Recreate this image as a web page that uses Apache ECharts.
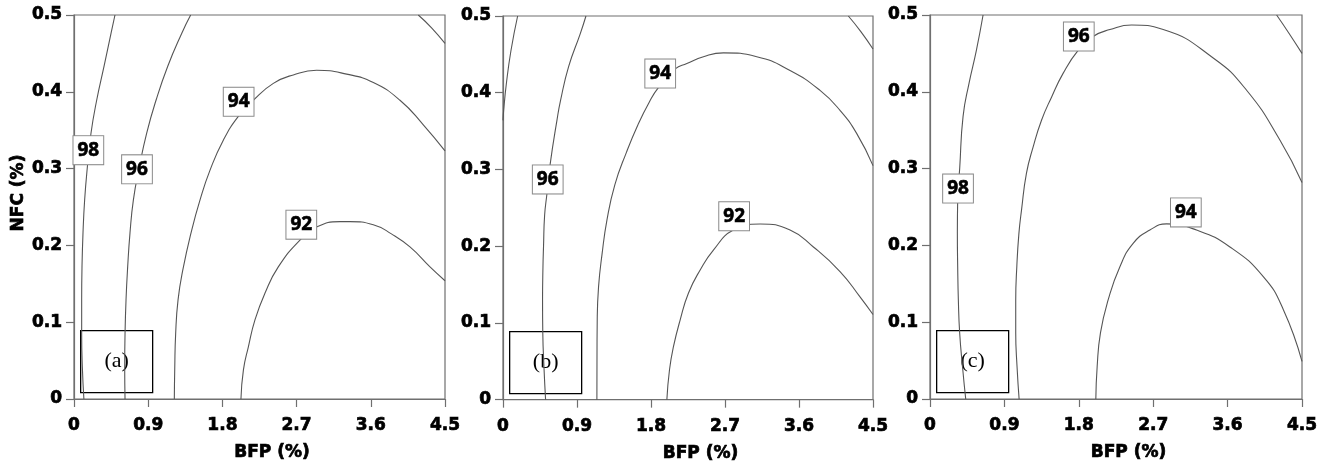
<!DOCTYPE html>
<html>
<head>
<meta charset="utf-8">
<title>Contour plots of NFC vs BFP</title>
<script src="https://cdn.jsdelivr.net/npm/echarts@6/dist/echarts.min.js"></script>
<style>
  html, body { margin: 0; padding: 0; background: #fff; }
  #chart { width: 1334px; height: 467px; }
</style>
</head>
<body>
<div id="chart"></div>
<script>
// Axis ticks
const xTickLabels = ['0', '0.9', '1.8', '2.7', '3.6', '4.5'];
const yTickLabels = ['0', '0.1', '0.2', '0.3', '0.4', '0.5'];

// Panel (a) contour lines: [BFP, NFC]
const a98 = [[0.12,0],[0.101,0.042],[0.093,0.085],[0.093,0.129],[0.097,0.172],[0.109,0.216],[0.129,0.259],[0.162,0.302],[0.206,0.346],[0.275,0.389],[0.364,0.433],[0.449,0.476],[0.497,0.5]];
const a96 = [[0.619,0],[0.615,0.042],[0.619,0.085],[0.631,0.129],[0.651,0.172],[0.679,0.216],[0.72,0.259],[0.792,0.302],[0.881,0.346],[0.995,0.389],[1.136,0.433],[1.306,0.476],[1.415,0.5]];
const a94 = [[1.217,0],[1.222,0.04],[1.233,0.085],[1.262,0.129],[1.32,0.168],[1.428,0.22],[1.528,0.259],[1.65,0.298],[1.811,0.337],[1.993,0.368],[2.175,0.389],[2.418,0.411],[2.66,0.422],[2.943,0.428],[3.307,0.423],[3.631,0.412],[3.954,0.389],[4.237,0.357],[4.5,0.323]];
const a92 = [[2.025,0],[2.055,0.038],[2.115,0.068],[2.195,0.103],[2.317,0.138],[2.478,0.172],[2.741,0.207],[2.944,0.224],[3.226,0.231],[3.348,0.231],[3.63,0.227],[3.85,0.215],[4.075,0.198],[4.318,0.172],[4.5,0.154]];
const a90 = [[4.176,0.5],[4.34,0.483],[4.5,0.463]];
const aLabels = [[0.174,0.324,98],[0.764,0.299,96],[1.997,0.387,94],[2.757,0.227,92]];

// Panel (b) contour lines
const b98 = [[0.178,0.5],[0.097,0.455],[0.041,0.412],[0.008,0.377],[0,0.364]];
const b96 = [[0.518,0],[0.498,0.043],[0.484,0.087],[0.481,0.13],[0.486,0.173],[0.493,0.2],[0.506,0.24],[0.535,0.269],[0.575,0.308],[0.656,0.364],[0.7,0.39],[0.798,0.434],[0.94,0.477],[1.009,0.5]];
const b94 = [[1.142,0],[1.143,0.05],[1.146,0.104],[1.162,0.147],[1.205,0.19],[1.264,0.234],[1.36,0.28],[1.5,0.322],[1.64,0.358],[1.78,0.388],[1.892,0.407],[2.094,0.431],[2.236,0.438],[2.438,0.447],[2.681,0.452],[3.086,0.447],[3.491,0.429],[3.856,0.403],[4.099,0.377],[4.301,0.347],[4.5,0.305]];
const b92 = [[1.993,0],[2.025,0.039],[2.073,0.069],[2.155,0.104],[2.256,0.139],[2.398,0.169],[2.559,0.195],[2.802,0.221],[3.127,0.229],[3.491,0.221],[3.775,0.199],[4.099,0.167],[4.342,0.134],[4.5,0.111]];
const b90 = [[4.2,0.5],[4.35,0.48],[4.5,0.457]];
const bLabels = [[0.544,0.287,96],[1.912,0.425,94],[2.811,0.239,92]];

// Panel (c) contour lines
const c98 = [[0.432,0],[0.395,0.04],[0.359,0.086],[0.343,0.129],[0.335,0.172],[0.331,0.216],[0.335,0.26],[0.359,0.3],[0.4,0.368],[0.472,0.411],[0.561,0.454],[0.642,0.5]];
const c96 = [[1.078,0],[1.053,0.042],[1.037,0.086],[1.037,0.129],[1.05,0.172],[1.075,0.215],[1.107,0.246],[1.167,0.294],[1.247,0.328],[1.349,0.363],[1.47,0.393],[1.61,0.424],[1.792,0.454],[1.973,0.472],[2.176,0.481],[2.438,0.487],[2.821,0.481],[3.426,0.444],[3.83,0.402],[4.234,0.337],[4.5,0.282]];
const c94 = [[2.006,0],[2.022,0.042],[2.062,0.086],[2.155,0.129],[2.296,0.172],[2.46,0.203],[2.66,0.22],[2.861,0.228],[3.224,0.22],[3.628,0.198],[4.034,0.159],[4.276,0.116],[4.5,0.049]];
const c90 = [[4.193,0.5],[4.35,0.475],[4.5,0.45]];
const cLabels = [[0.339,0.274,98],[1.8,0.472,96],[3.095,0.243,94]];

const panelTags = ['(a)', '(b)', '(c)'];

const panels = [
  { lines: [a98, a96, a94, a92, a90], labels: aLabels },
  { lines: [b98, b96, b94, b92, b90], labels: bLabels },
  { lines: [c98, c96, c94, c90], labels: cLabels }
];

const grids = [
  { left: 74,  top: 15, width: 371, height: 384 },
  { left: 503, top: 16, width: 370, height: 384 },
  { left: 930, top: 15, width: 372, height: 384 }
];

const axisColor = '#6f6f6f';
const tickFont = 'DejaVu Sans';
// heavy black text used for ticks and axis titles
const heavyText = {
  fontFamily: tickFont, fontWeight: 'bold', fontSize: 17, color: '#000',
  textBorderColor: '#000', textBorderWidth: 0.7
};

const chart = echarts.init(document.getElementById('chart'), null, { renderer: 'canvas' });

const xAxes = grids.map((g, i) => ({
  type: 'value', gridIndex: i, min: 0, max: 4.5, interval: 0.9,
  name: 'BFP (%)', nameLocation: 'middle', nameGap: 45,
  nameTextStyle: Object.assign({ padding: [0, 0, 0, 25] }, heavyText),
  axisLine: { show: true, lineStyle: { color: axisColor, width: 1.2 } },
  axisTick: { show: true, inside: false, length: 8, lineStyle: { color: axisColor, width: 1.2 } },
  axisLabel: Object.assign({ margin: 18, formatter: v => xTickLabels[Math.round(v / 0.9)] }, heavyText),
  splitLine: { show: false }
}));

const yAxes = grids.map((g, i) => ({
  type: 'value', gridIndex: i, min: 0, max: 0.5, interval: 0.1,
  name: i === 0 ? 'NFC (%)' : '', nameLocation: 'middle', nameGap: 46,
  nameTextStyle: Object.assign({ padding: [0, 0, 0, 28] }, heavyText),
  axisLine: { show: true, lineStyle: { color: axisColor, width: 1.2 } },
  axisTick: { show: true, inside: false, length: 8, lineStyle: { color: axisColor, width: 1.2 } },
  axisLabel: Object.assign({ margin: 12, formatter: v => yTickLabels[Math.round(v / 0.1)] }, heavyText),
  splitLine: { show: false }
}));

const series = [];
panels.forEach((p, i) => {
  p.lines.forEach(line => {
    series.push({
      type: 'line', xAxisIndex: i, yAxisIndex: i, data: line,
      smooth: 0.5, symbol: 'none', silent: true, z: 2,
      lineStyle: { color: '#555', width: 1.1 }
    });
  });
  series.push({
    type: 'scatter', xAxisIndex: i, yAxisIndex: i, data: p.labels,
    symbolSize: 0, silent: true, z: 5,
    itemStyle: { opacity: 1 },
    label: {
      show: true, position: 'inside', opacity: 1,
      formatter: d => String(d.value[2]),
      fontFamily: 'Open Sans', fontWeight: 'bold', fontSize: 19, color: '#000',
      textBorderColor: '#000', textBorderWidth: 0.6,
      backgroundColor: '#fff', borderColor: '#8a8a8a', borderWidth: 1,
      padding: [4, 4, 3, 4], lineHeight: 21
    }
  });
});

// Panel tag boxes sit in the lower-left corner of each plot
const graphic = grids.map((g, i) => ({
  type: 'group', left: g.left + 6, top: g.top + g.height - 69, z: 100,
  children: [
    { type: 'rect', shape: { x: 0, y: 0, width: 72, height: 62 },
      style: { fill: '#fff', stroke: '#000', lineWidth: 1.3 } },
    { type: 'text', x: 36, y: 31,
      style: { text: panelTags[i], fill: '#000', font: '22px "Liberation Serif", serif',
        align: 'center', verticalAlign: 'middle' } }
  ]
}));

chart.setOption({
  animation: false,
  backgroundColor: '#fff',
  grid: grids.map(g => Object.assign({ show: true, borderColor: axisColor, borderWidth: 1.2, backgroundColor: 'transparent' }, g)),
  xAxis: xAxes,
  yAxis: yAxes,
  series: series,
  graphic: graphic
});
</script>
</body>
</html>
